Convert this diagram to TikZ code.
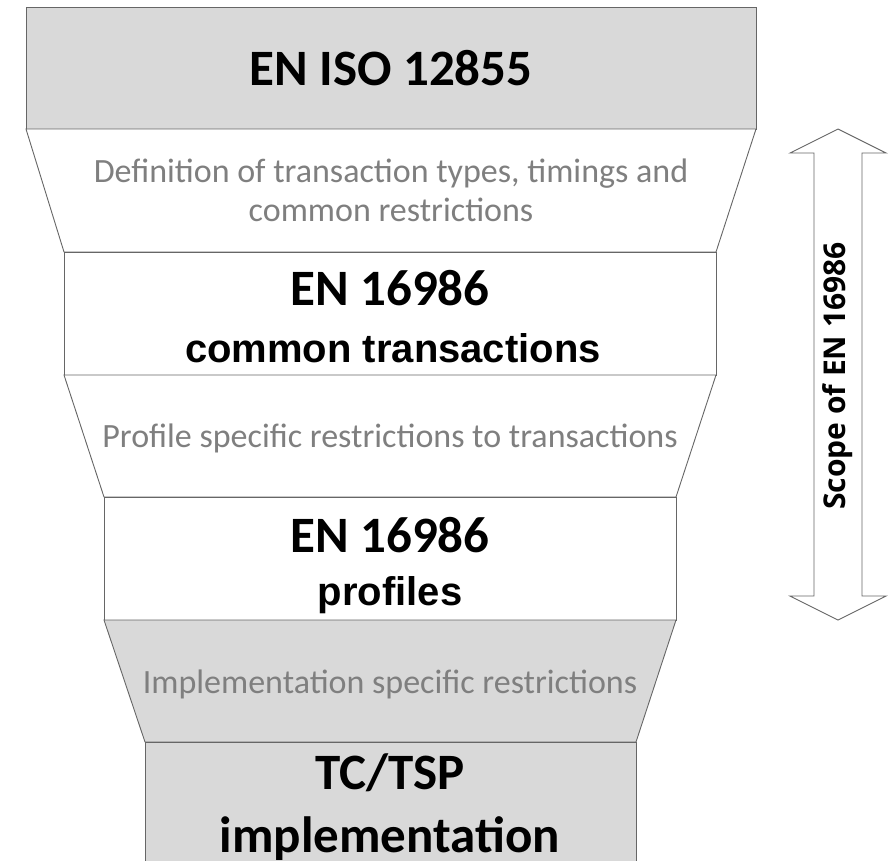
\documentclass[tikz,border=0pt]{standalone}
\usepackage{fontspec}
\newfontfamily\calb[BoldFont={Carlito Bold}]{Carlito}
\newfontfamily\arib{Liberation Sans}
\newfontfamily\opsb{Open Sans}
\definecolor{boxgray}{HTML}{D9D9D9}
\definecolor{edgegray}{HTML}{666666}
\definecolor{txtgray}{HTML}{7F7F7F}
\begin{document}
\begin{tikzpicture}[x=1pt,y=-1pt,
  shape edge/.style={draw=edgegray,line width=0.9pt,line join=miter},
  title/.style={inner sep=0pt,anchor=base,font=\calb\bfseries\fontsize{51}{60}\selectfont,text=black},
  subtitle/.style={inner sep=0pt,anchor=base,font=\arib\bfseries\fontsize{40}{48}\selectfont,text=black},
  note/.style={inner sep=0pt,anchor=base,font=\calb\fontsize{34}{40}\selectfont,text=txtgray},
  scope label/.style={inner sep=0pt,font=\opsb\bfseries\fontsize{30}{36}\selectfont,text=black,rotate=90}]
\useasboundingbox (0,0) rectangle (894,860);
\begin{scope}
\clip (0,0) rectangle (894,860);
% boxes and funnel parts
\path[shape edge,fill=boxgray] (26,7) rectangle (756,129);
\path[shape edge,fill=white] (26,129) -- (756,129) -- (716,252) -- (64,252) -- cycle;
\path[shape edge,fill=white] (64,252) rectangle (716,375);
\path[shape edge,fill=white] (64,375) -- (716,375) -- (676,497) -- (104,497) -- cycle;
\path[shape edge,fill=white] (104,497) rectangle (676,620);
\path[shape edge,fill=boxgray] (104,620) -- (676,620) -- (636,742) -- (145,742) -- cycle;
\path[shape edge,fill=boxgray] (145,742) rectangle (636,880);
% double arrow
\path[shape edge,fill=white] (838,129) -- (886,153) -- (862,153) -- (862,596) -- (886,596)
  -- (838,620) -- (790,596) -- (814,596) -- (814,153) -- (790,153) -- cycle;
\end{scope}
% texts
\node[title] (iso) at (391,85) {EN ISO 12855};
\node[note] (def1) at (391,182) {Definition of transaction types, timings and};
\node[note] (def2) at (391,221) {common restrictions};
\node[title] (ct1) at (390,305) {EN 16986};
\node[subtitle] (ct2) at (393,362) {common transactions};
\node[note] (prof) at (390,447) {Profile specific restrictions to transactions};
\node[title] (pr1) at (390,552) {EN 16986};
\node[subtitle] (pr2) at (390,605) {profiles};
\node[note] (impl) at (390,693) {Implementation specific restrictions};
\node[title] (tc1) at (390,789) {TC/TSP};
\node[title] (tc2) at (390,852) {implementation};
\node[scope label] (scope) at (838,376) {Scope of EN 16986};
\end{tikzpicture}
\end{document}
